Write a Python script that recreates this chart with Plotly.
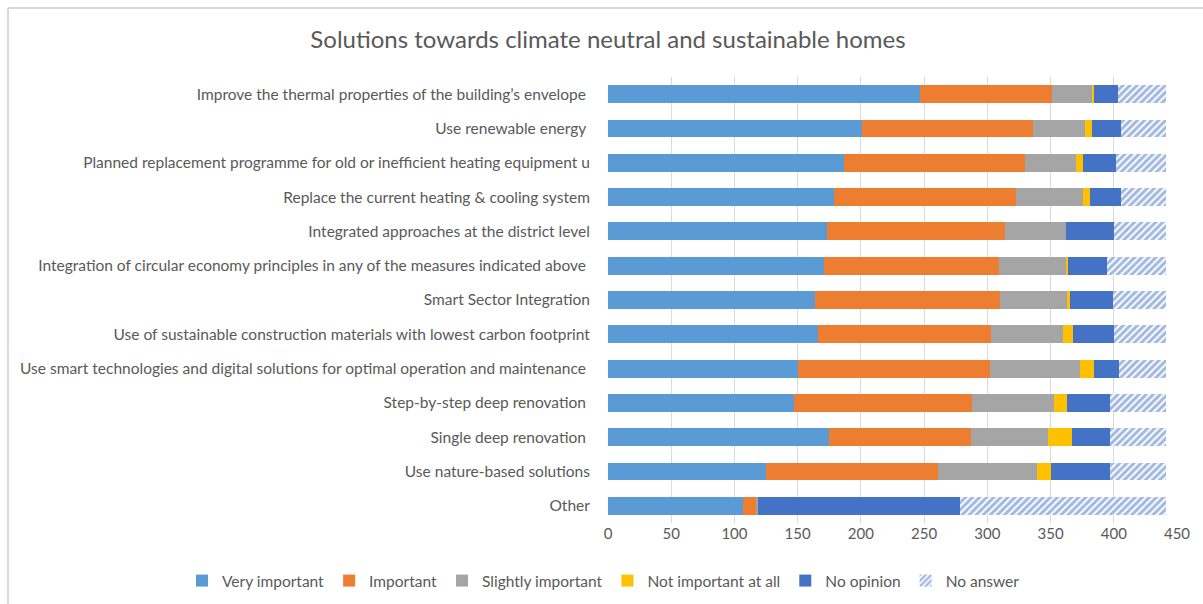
import plotly.graph_objects as go

categories = [
    "Improve the thermal properties of the building\u2019s envelope ",
    "Use renewable energy ",
    "Planned replacement programme for old or inefficient heating equipment u",
    "Replace the current heating & cooling system",
    "Integrated approaches at the district level",
    "Integration of circular economy principles in any of the measures indicated above ",
    "Smart Sector Integration",
    "Use of sustainable construction materials with lowest carbon footprint",
    "Use smart technologies and digital solutions for optimal operation and maintenance ",
    "Step-by-step deep renovation ",
    "Single deep renovation ",
    "Use nature-based solutions",
    "Other",
]

very_important = [247, 201, 187, 179, 173, 171, 164, 166, 150, 147, 175, 125, 107]
important = [104, 135, 143, 144, 141, 138, 146, 137, 152, 141, 112, 136, 10]
slightly_important = [32, 41, 40, 53, 48, 54, 53, 57, 71, 65, 61, 78, 2]
not_important = [1, 6, 6, 5, 0, 1, 2, 8, 11, 10, 19, 11, 0]
no_opinion = [19, 23, 26, 25, 38, 31, 34, 32, 20, 34, 30, 47, 159]
no_answer = [38, 35, 39, 35, 41, 46, 42, 41, 37, 44, 44, 44, 163]

x_ticks = [0, 50, 100, 150, 200, 250, 300, 350, 400, 450]

series = [
    ("Very important", very_important, "#5B9BD5"),
    ("Important", important, "#ED7D31"),
    ("Slightly important", slightly_important, "#A5A5A5"),
    ("Not important at all", not_important, "#FFC000"),
    ("No opinion", no_opinion, "#4472C4"),
]

FONT = "Lato, Calibri, Carlito, sans-serif"
GREY = "#595959"

fig = go.Figure()
for name, vals, col in series:
    fig.add_trace(go.Bar(
        y=categories, x=vals, name=name, orientation="h",
        marker=dict(color=col, line=dict(width=0)), width=0.52,
    ))
fig.add_trace(go.Bar(
    y=categories, x=no_answer, name="No answer", orientation="h", width=0.52,
    marker=dict(color="white", line=dict(width=0),
                pattern=dict(shape="/", fgcolor="#4472C4", bgcolor="white",
                             size=5, solidity=0.6)),
))

W, H = 1203, 604
L, R, T, B = 608, 26, 77, 81
PW, PH = W - L - R, H - T - B


def px_x(px):
    return (px - L) / PW


def px_y(py):
    return (H - B - py) / PH


fig.update_layout(
    barmode="stack",
    width=W, height=H,
    margin=dict(l=L, r=R, t=T, b=B, pad=0, autoexpand=False),
    paper_bgcolor="white", plot_bgcolor="white",
    font=dict(family=FONT, size=14, color=GREY),
    title=dict(text="Solutions towards climate neutral and sustainable homes",
               x=608 / W, xanchor="center", xref="container",
               y=1 - 40 / H, yanchor="middle", yref="container",
               font=dict(family=FONT, size=24, color=GREY)),
    xaxis=dict(range=[0, 450], tickvals=x_ticks, showgrid=True,
               gridcolor="#D9D9D9", gridwidth=1, zeroline=False,
               showline=False, ticks="", tickfont=dict(size=15, color=GREY)),
    yaxis=dict(categoryorder="array", categoryarray=categories,
               autorange="reversed", showgrid=False, zeroline=False,
               showline=False, ticks="outside", ticklen=14,
               tickcolor="rgba(0,0,0,0)", tickfont=dict(size=15.5, color=GREY)),
    legend=dict(orientation="h", xref="paper", x=px_x(182), xanchor="left",
                yref="paper", y=px_y(581), yanchor="middle",
                font=dict(size=15.5, color=GREY),
                itemwidth=30, traceorder="normal", tracegroupgap=0),
    bargap=0.48,
    shapes=[
        dict(type="line", xref="paper", yref="paper",
             x0=px_x(8), x1=px_x(W + 10), y0=px_y(8), y1=px_y(8),
             line=dict(color="#D9D9D9", width=2)),
        dict(type="line", xref="paper", yref="paper",
             x0=px_x(8), x1=px_x(8), y0=px_y(8), y1=px_y(H + 10),
             line=dict(color="#D9D9D9", width=2)),
    ],
)

fig.write_html("out.html")
